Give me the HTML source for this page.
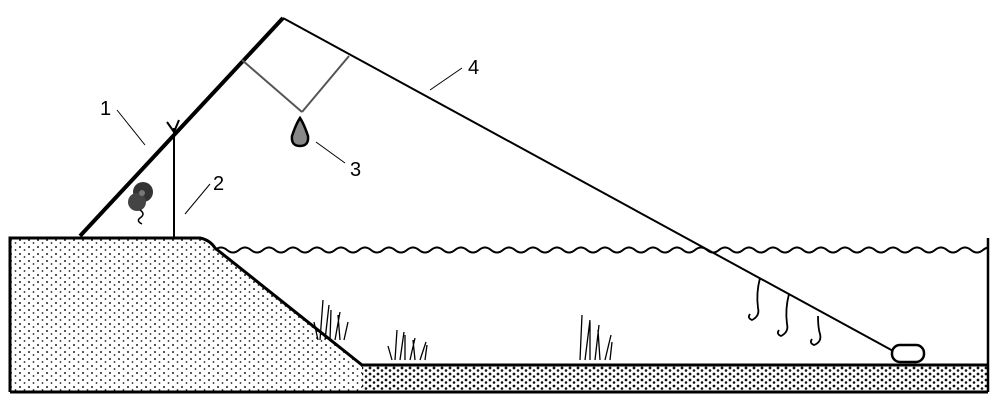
<!DOCTYPE html>
<html><head><style>body{margin:0;background:#fff}svg{display:block}</style></head>
<body>
<svg width="1000" height="418" viewBox="0 0 1000 418" xmlns="http://www.w3.org/2000/svg" font-family="Liberation Sans, sans-serif">
<defs>
<pattern id="dots" width="9" height="7" patternUnits="userSpaceOnUse">
<circle cx="2" cy="2" r="1" fill="#222"/><circle cx="6.5" cy="5" r="0.9" fill="#222"/>
</pattern>
<pattern id="dots2" width="8" height="6" patternUnits="userSpaceOnUse">
<circle cx="2" cy="2" r="1.4" fill="#111"/><circle cx="6" cy="4.5" r="1.3" fill="#111"/>
</pattern>
<clipPath id="wc"><rect x="210" y="230" width="778" height="40"/></clipPath>
</defs>
<rect width="1000" height="418" fill="#fff"/>
<!-- bank -->
<path d="M10,238 L200,238 Q210,240 215,248 L362,365 L362,392 L10,392 Z" fill="url(#dots)" stroke="none"/>
<rect x="362" y="366" width="626" height="25" fill="url(#dots2)"/>
<path d="M10,392 L10,238 L200,238 Q210,240 215,248 L362,365 L988,365" fill="none" stroke="#000" stroke-width="3"/>
<line x1="10" y1="392" x2="988" y2="392" stroke="#000" stroke-width="3"/>
<line x1="988" y1="238" x2="988" y2="392" stroke="#000" stroke-width="2.5"/>
<!-- water -->
<g clip-path="url(#wc)">
<path d="M215,250 q6,-5 12,0 t12,0 t12,0 t12,0 t12,0 t12,0 t12,0 t12,0 t12,0 t12,0 t12,0 t12,0 t12,0 t12,0 t12,0 t12,0 t12,0 t12,0 t12,0 t12,0 t12,0 t12,0 t12,0 t12,0 t12,0 t12,0 t12,0 t12,0 t12,0 t12,0 t12,0 t12,0 t12,0 t12,0 t12,0 t12,0 t12,0 t12,0 t12,0 t12,0 t12,0 t12,0 t12,0 t12,0 t12,0 t12,0 t12,0 t12,0 t12,0 t12,0 t12,0 t12,0 t12,0 t12,0 t12,0 t12,0 t12,0 t12,0 t12,0 t12,0 t12,0 t12,0 t12,0 t12,0 t12,0 t12,0 t12,0" fill="none" stroke="#000" stroke-width="2"/>
</g>
<!-- rod -->
<line x1="80" y1="236" x2="283" y2="18" stroke="#000" stroke-width="4"/>
<line x1="283" y1="18" x2="895" y2="352" stroke="#000" stroke-width="2"/>
<!-- stand 2 -->
<line x1="174" y1="128" x2="174" y2="237" stroke="#000" stroke-width="2"/>
<path d="M167,122 L174,132 L179,120" fill="none" stroke="#000" stroke-width="2"/>
<!-- reel -->
<circle cx="143" cy="192" r="10" fill="#333"/><circle cx="137" cy="202" r="9" fill="#444"/>
<circle cx="142" cy="193" r="3" fill="#777"/>
<path d="M140,210 q6,4 0,8 q-4,3 2,6" fill="none" stroke="#000" stroke-width="1.5"/>
<!-- bell hanger -->
<line x1="242" y1="60" x2="302" y2="112" stroke="#555" stroke-width="2"/>
<line x1="349" y1="56" x2="302" y2="112" stroke="#555" stroke-width="2"/>
<path d="M300,118 Q304,124 308,136 Q309,146 300,146 Q291,146 292,136 Q296,124 300,118 Z" fill="#888" stroke="#000" stroke-width="2.5"/>
<!-- labels -->
<text x="100" y="115" font-size="20">1</text>
<line x1="117" y1="110" x2="145" y2="145" stroke="#000" stroke-width="1"/>
<text x="213" y="190" font-size="20">2</text>
<line x1="210" y1="184" x2="185" y2="214" stroke="#000" stroke-width="1"/>
<text x="350" y="176" font-size="20">3</text>
<line x1="345" y1="163" x2="316" y2="142" stroke="#000" stroke-width="1"/>
<text x="468" y="74" font-size="20">4</text>
<line x1="462" y1="68" x2="430" y2="90" stroke="#000" stroke-width="1"/>
<!-- weight -->
<rect x="892" y="345" width="32" height="17" rx="8" fill="#fff" stroke="#000" stroke-width="2.5"/>
<!-- hooks -->
<g fill="none" stroke="#000" stroke-width="1.8">
<path d="M760,278 q-4,15 -2,30 q2,8 -6,12 q-5,-2 -2,-6"/>
<path d="M789,294 q-4,15 -2,30 q2,8 -6,12 q-5,-2 -2,-6"/>
<path d="M818,316 q0,12 2,18 q2,8 -6,11 q-5,-2 -2,-6"/>
</g>
<!-- grass -->
<g stroke="#000" stroke-width="1.3" fill="none">
<path d="M320,340 l3,-40 M325,340 l4,-35 M330,340 l1,-30 M335,340 l5,-28 M340,340 l-2,-25 M344,340 l4,-18 M318,340 l-4,-18"/>
<path d="M395,360 l2,-30 M400,360 l4,-28 M405,360 l0,-25 M410,360 l5,-22 M415,360 l-2,-20 M420,360 l6,-18 M425,360 l2,-15 M392,360 l-4,-14"/>
<path d="M580,360 l2,-45 M585,360 l5,-40 M590,360 l0,-38 M595,360 l4,-35 M600,360 l-2,-30 M605,360 l6,-25 M610,360 l2,-18"/>
</g>
</svg>
</body></html>
